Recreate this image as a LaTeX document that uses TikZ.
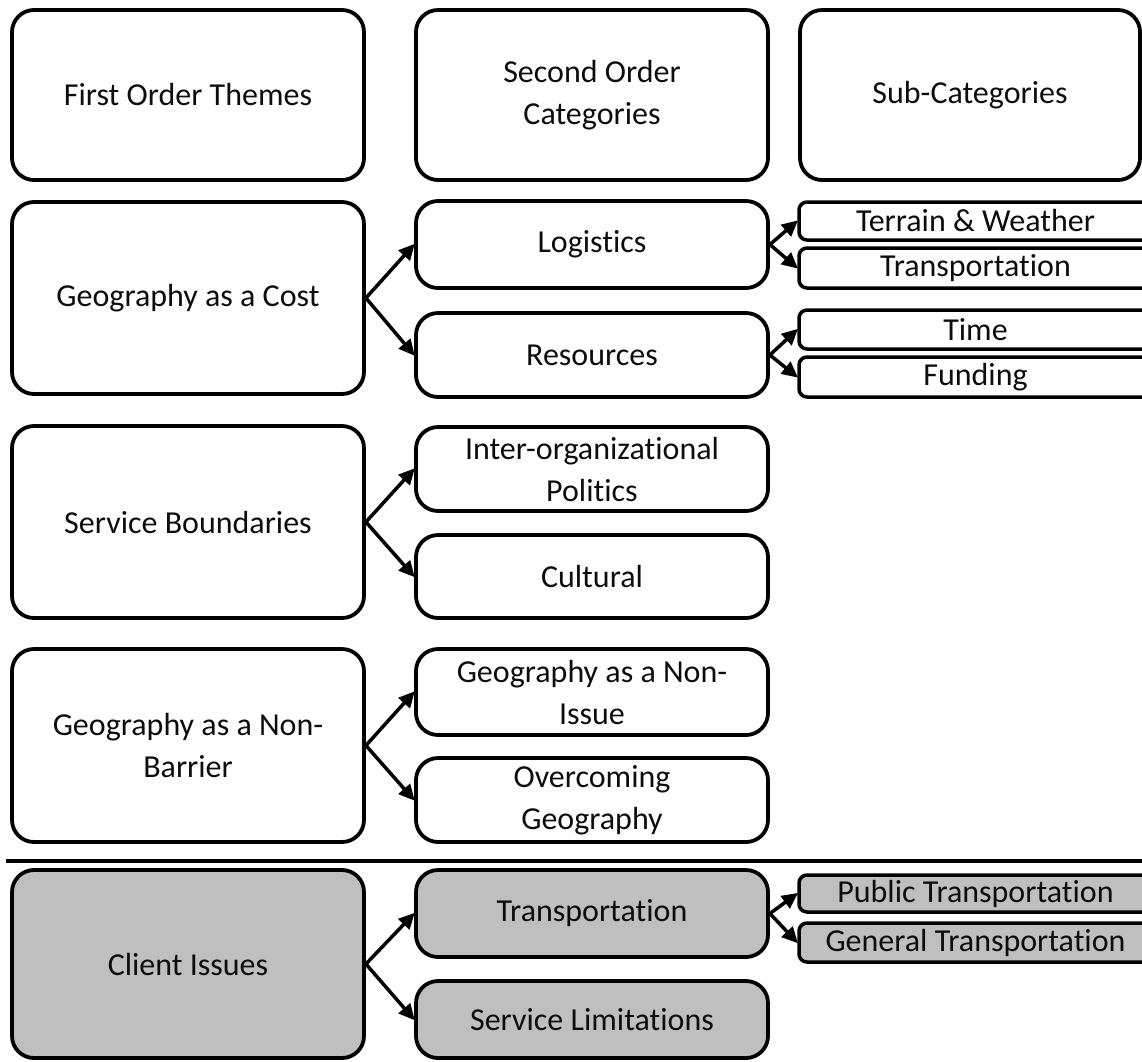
\documentclass[tikz,border=0pt]{standalone}
\usepackage{fontspec}
\setmainfont[Ligatures=NoCommon]{Carlito}
\usetikzlibrary{arrows.meta}
\begin{document}
\begin{tikzpicture}[x=1pt,y=-1pt,
  base/.style={draw=black, rounded corners=22pt, line width=3.8pt, align=center, inner sep=0pt,
    font=\fontsize{32}{42}\selectfont, text=black!95},
  sub/.style={draw=black, rounded corners=8pt, line width=3.5pt, align=center, inner sep=0pt,
    font=\fontsize{32}{42}\selectfont, text=black!95},
  grey/.style={fill=black!25},
  arr/.style={line width=3.5pt, -{Triangle[length=16pt,width=15pt]}, shorten >=-1pt}
]
\useasboundingbox (0,0) rectangle (1142,1061);
\clip (0,0) rectangle (1142,1061);
\newcommand{\bx}[7]{\node[#1, minimum width=#4-#3, minimum height=#6-#5] (#2) at ({(#3+#4)/2},{(#5+#6)/2}) {#7};}
% header
\bx{base}{h1}{12}{364}{10}{180}{First Order Themes}
\bx{base}{h2}{416}{768}{10}{180}{Second Order\\Categories}
\bx{base}{h3}{800}{1140}{10}{180}{Sub-Categories}
% row 1
\bx{base}{geo}{12}{364}{202}{394}{Geography as a Cost}
\bx{base}{log}{416}{768}{201}{288}{Logistics}
\bx{base}{res}{416}{768}{313}{397}{Resources}
\bx{sub}{ter}{799}{1152}{202}{240}{Terrain \& Weather}
\bx{sub}{tra}{799}{1152}{248}{288}{Transportation}
\bx{sub}{tim}{799}{1152}{310}{349}{Time}
\bx{sub}{fun}{799}{1152}{357}{397}{Funding}
% row 2
\bx{base}{ser}{12}{364}{426}{618}{Service Boundaries}
\bx{base}{int}{416}{768}{427}{511}{Inter-organizational\\Politics}
\bx{base}{cul}{416}{768}{535}{618}{Cultural}
% row 3
\bx{base}{nb}{12}{364}{649}{842}{Geography as a Non-\\Barrier}
\bx{base}{ni}{416}{768}{649}{735}{Geography as a Non-\\Issue}
\bx{base}{ov}{416}{768}{758}{842}{Overcoming\\Geography}
% divider
\coordinate (la) at (6,861);
\coordinate (lb) at (1160,861);
\draw[line width=3.8pt] (la) -- (lb);
% row 4
\bx{base,grey}{cli}{12}{364}{870}{1058}{Client Issues}
\bx{base,grey}{ctr}{416}{768}{870}{957}{Transportation}
\bx{base,grey}{sl}{416}{768}{981}{1058}{Service Limitations}
\bx{sub,grey}{pub}{799}{1152}{875}{912}{Public Transportation}
\bx{sub,grey}{gen}{799}{1152}{923}{962}{General Transportation}
% arrows
\foreach \a/\b in {geo/log,geo/res,log/ter,log/tra,res/tim,res/fun,ser/int,ser/cul,nb/ni,nb/ov,cli/ctr,cli/sl,ctr/pub,ctr/gen}
  \draw[arr] (\a.east) -- (\b.west);
\end{tikzpicture}
\end{document}
